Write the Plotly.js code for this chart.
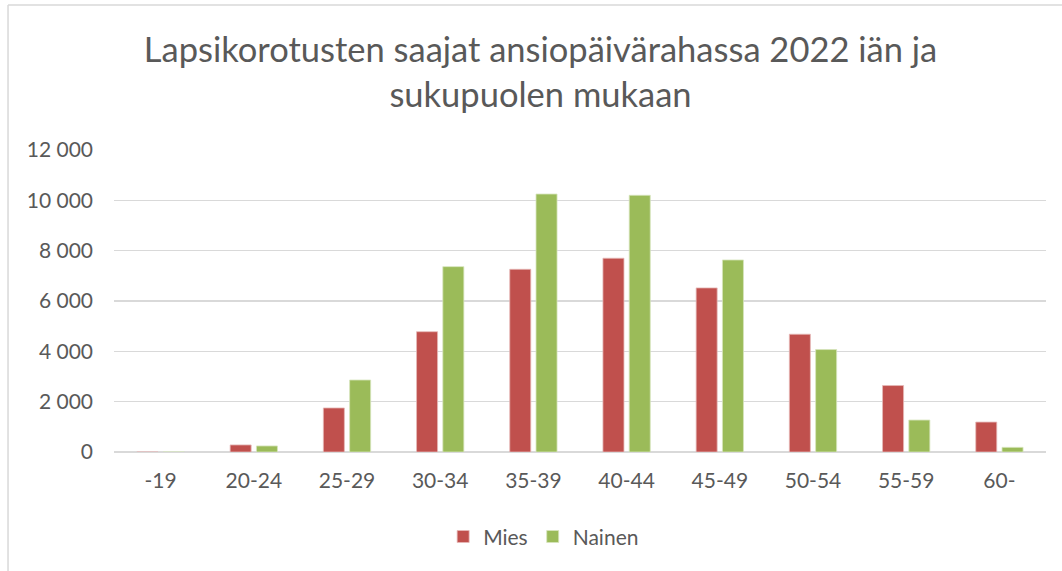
<!DOCTYPE html>
<html>
<head>
<meta charset="utf-8">
<script src="https://cdn.plot.ly/plotly-3.0.1.min.js"></script>
<style>
html,body{margin:0;padding:0;background:#fff;}
#chart{width:1062px;height:571px;}
</style>
</head>
<body>
<div id="chart"></div>
<script>
const categories = ["-19","20-24","25-29","30-34","35-39","40-44","45-49","50-54","55-59","60-"];
const mies   = [0, 280, 1750, 4780, 7260, 7700, 6520, 4680, 2640, 1190];
const nainen = [0, 240, 2860, 7365, 10250, 10200, 7630, 4070, 1270, 185];
const yTickVals = [0, 2000, 4000, 6000, 8000, 10000, 12000];
const yTickText = ["0", "2 000", "4 000", "6 000", "8 000", "10 000", "12 000"];
const titleText = "Lapsikorotusten saajat ansiopäivärahassa 2022 iän ja<br>sukupuolen mukaan";

const FONT = "Lato, 'Open Sans', sans-serif";
const TXT = "#595959";
const GRID = "#D9D9D9";

const traces = [
  {type:"bar", name:"Mies", x:categories, y:mies,
   marker:{color:"#C0504D", line:{color:"#E6B9B8", width:0.8}}},
  {type:"bar", name:"Nainen", x:categories, y:nainen,
   marker:{color:"#9BBB59", line:{color:"#D7E4BD", width:0.8}}}
];

const layout = {
  width:1062, height:571,
  paper_bgcolor:"#fff", plot_bgcolor:"#fff",
  margin:{l:114, r:16, t:150, b:119, pad:0},
  font:{family:FONT, color:TXT, size:21},
  title:{text:titleText, font:{family:FONT, size:34.5, color:TXT},
         x:540.5/1062, xref:"container", xanchor:"center",
         y:1-62/571, yref:"container", yanchor:"top"},
  barmode:"group", bargap:0.436, bargroupgap:0.2,
  xaxis:{type:"category", showgrid:false, showline:false, zeroline:false,
         ticks:"", ticklabelstandoff:14, tickfont:{size:21, color:TXT}},
  yaxis:{range:[0,12000], tickvals:yTickVals, ticktext:yTickText,
         showgrid:true, gridcolor:GRID, gridwidth:1.5, zeroline:true,
         zerolinecolor:GRID, zerolinewidth:1.5, showline:false, ticks:"",
         ticklabelstandoff:20, tickfont:{size:21, color:TXT}},
  showlegend:true,
  legend:{orientation:"h", x:0.461, xanchor:"center", y:-0.281, yanchor:"middle",
          font:{size:21, color:TXT}, itemwidth:30, traceorder:"normal"},
  shapes:[
    {type:"line", xref:"paper", yref:"paper", x0:-0.1137, x1:1.2, y0:1.48, y1:1.48,
     line:{color:GRID, width:1.5}},
    {type:"line", xref:"paper", yref:"paper", x0:-0.1137, x1:-0.1137, y0:1.48, y1:-0.5,
     line:{color:GRID, width:1.5}}
  ]
};

Plotly.newPlot("chart", traces, layout, {displayModeBar:false, staticPlot:true});
</script>
</body>
</html>
